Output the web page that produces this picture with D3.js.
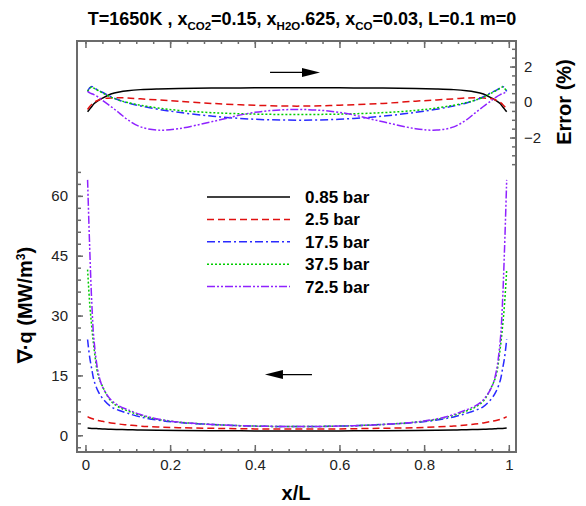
<!DOCTYPE html>
<html>
<head>
<meta charset="utf-8">
<script src="https://cdn.jsdelivr.net/npm/d3@7/dist/d3.min.js"></script>
<style>
  body { margin: 0; background: #fff; }
  svg text { font-family: "Liberation Sans", Arial, sans-serif; }
</style>
</head>
<body>
<div id="chart-area"></div>
<script>
// x/L sample positions
const xPos = [0.005, 0.01, 0.015, 0.02, 0.03, 0.04, 0.06, 0.08, 0.1, 0.13, 0.17, 0.22, 0.3, 0.4, 0.5,
  0.6, 0.7, 0.78, 0.83, 0.87, 0.9, 0.92, 0.94, 0.96, 0.97, 0.98, 0.985, 0.99, 0.995];

const pressures = ["0.85 bar", "2.5 bar", "17.5 bar", "37.5 bar", "72.5 bar"];

// divergence of heat flux, MW/m^3
const divQ085 = [1.8, 1.75, 1.72, 1.7, 1.65, 1.6, 1.5, 1.45, 1.4, 1.3, 1.25, 1.2, 1.15, 1.1, 1.08,
  1.1, 1.15, 1.2, 1.25, 1.3, 1.4, 1.45, 1.5, 1.6, 1.65, 1.7, 1.72, 1.75, 1.8];
const divQ25 = [4.7, 4.4, 4.2, 4.0, 3.7, 3.5, 3.1, 2.8, 2.6, 2.3, 2.1, 1.9, 1.75, 1.6, 1.55,
  1.6, 1.75, 1.9, 2.1, 2.3, 2.6, 2.8, 3.1, 3.5, 3.7, 4.0, 4.2, 4.4, 4.7];
const divQ175 = [24, 19.5, 16.5, 13.8, 11, 9.3, 7.2, 6.2, 5.5, 4.6, 3.8, 3.2, 2.7, 2.3, 2.2,
  2.3, 2.7, 3.2, 3.8, 4.6, 5.5, 6.2, 7.2, 9.3, 11, 13.8, 16.5, 19.5, 24];
const divQ375 = [41.5, 33, 27, 22, 15, 12.3, 8.6, 7.0, 6.1, 5.0, 4.0, 3.3, 2.7, 2.3, 2.2,
  2.3, 2.7, 3.3, 4.0, 5.0, 6.1, 7.0, 8.6, 12.3, 15, 22, 27, 33, 41.5];
const divQ725 = [64, 47, 33, 24, 15.8, 12.2, 8.9, 7.3, 6.4, 5.2, 4.1, 3.3, 2.7, 2.3, 2.2,
  2.3, 2.7, 3.3, 4.1, 5.2, 6.4, 7.3, 8.9, 12.2, 15.8, 24, 33, 47, 64];

// error, %
const err085 = [-0.55, -0.4, -0.25, -0.1, 0.08, 0.22, 0.45, 0.57, 0.64, 0.7, 0.74, 0.77, 0.79, 0.8, 0.8,
  0.8, 0.79, 0.77, 0.74, 0.7, 0.64, 0.57, 0.45, 0.22, 0.08, -0.1, -0.25, -0.4, -0.55];
const err25 = [-0.42, -0.25, -0.12, -0.02, 0.1, 0.18, 0.23, 0.24, 0.23, 0.18, 0.12, 0.05, -0.08, -0.18, -0.23,
  -0.18, -0.08, 0.05, 0.12, 0.18, 0.23, 0.24, 0.23, 0.18, 0.1, -0.02, -0.12, -0.25, -0.42];
const err175 = [0.6, 0.8, 0.88, 0.8, 0.66, 0.55, 0.3, 0.1, -0.05, -0.22, -0.4, -0.58, -0.8, -0.97, -1.02,
  -0.97, -0.8, -0.58, -0.4, -0.22, -0.05, 0.1, 0.3, 0.55, 0.66, 0.8, 0.88, 0.8, 0.6];
const err375 = [0.6, 0.78, 0.85, 0.78, 0.65, 0.52, 0.28, 0.1, -0.03, -0.18, -0.33, -0.47, -0.6, -0.68, -0.7,
  -0.68, -0.6, -0.47, -0.33, -0.18, -0.03, 0.1, 0.28, 0.52, 0.65, 0.78, 0.85, 0.78, 0.6];
const err725 = [0.6, 0.52, 0.47, 0.42, 0.28, 0.1, -0.25, -0.62, -1.0, -1.4, -1.58, -1.5, -1.1, -0.58, -0.42,
  -0.58, -1.1, -1.5, -1.58, -1.4, -1.0, -0.62, -0.25, 0.1, 0.28, 0.42, 0.47, 0.52, 0.6];

const xTicks = [0, 0.2, 0.4, 0.6, 0.8, 1];
const yLeftTicks = [0, 15, 30, 45, 60];
const yRightTicks = [-2, 0, 2];

const divQSeries = [divQ085, divQ25, divQ175, divQ375, divQ725];
const errSeries = [err085, err25, err175, err375, err725];

const colors = ["#000000", "#e01010", "#2a2aff", "#00cc00", "#8f22ff"];
const dashes = [null, "7,4", "8,3,2,3", "2,2", "8,2,2,2,2,2"];

const width = 586, height = 506;
const plotL = 77, plotR = 516, plotT = 41, plotB = 452;

const svg = d3.select("#chart-area").append("svg")
  .attr("width", width)
  .attr("height", height);

const xScale = d3.scaleLinear().domain([-0.02, 1.017]).range([plotL, plotR]);
const yLeft = d3.scaleLinear().domain([-4.19, 98.8]).range([plotB, plotT]);
const yRight = d3.scaleLinear().domain([-19.72, 3.44]).range([plotB, plotT]);

const axisColor = "#6b6b6b";

// bottom axis
const xMinor = d3.range(0, 1.0001, 0.04);
svg.append("g")
  .attr("transform", `translate(0,${plotB})`)
  .call(d3.axisTop(xScale).tickValues(xMinor).tickSize(3).tickFormat(""))
  .call(g => g.select(".domain").remove());
svg.append("g")
  .attr("transform", `translate(0,${plotB})`)
  .call(d3.axisTop(xScale).tickValues(xTicks).tickSize(7).tickFormat(""))
  .call(g => g.select(".domain").remove());
svg.append("g")
  .attr("transform", `translate(0,${plotB})`)
  .call(d3.axisBottom(xScale).tickValues(xTicks).tickSize(0).tickPadding(7).tickFormat(d3.format("~g")))
  .call(g => g.select(".domain").remove())
  .selectAll("text").style("font-size", "15px").attr("fill", "#222");

// top axis
svg.append("g")
  .attr("transform", `translate(0,${plotT})`)
  .call(d3.axisBottom(xScale).tickValues(xMinor).tickSize(3).tickFormat(""))
  .call(g => g.select(".domain").remove());
svg.append("g")
  .attr("transform", `translate(0,${plotT})`)
  .call(d3.axisBottom(xScale).tickValues(xTicks).tickSize(7).tickFormat(""))
  .call(g => g.select(".domain").remove());

// left axis (divergence)
const yLeftMinor = d3.range(-3, 66.01, 3);
svg.append("g")
  .attr("transform", `translate(${plotL},0)`)
  .call(d3.axisRight(yLeft).tickValues(yLeftMinor).tickSize(4).tickFormat(""))
  .call(g => g.select(".domain").remove());
svg.append("g")
  .attr("transform", `translate(${plotL},0)`)
  .call(d3.axisRight(yLeft).tickValues(yLeftTicks).tickSize(6).tickFormat(""))
  .call(g => g.select(".domain").remove());
svg.append("g")
  .attr("transform", `translate(${plotL},0)`)
  .call(d3.axisLeft(yLeft).tickValues(yLeftTicks).tickSize(0).tickPadding(9))
  .call(g => g.select(".domain").remove())
  .selectAll("text").style("font-size", "15px").attr("fill", "#222");

// right axis (error)
const yRightMinor = d3.range(-3.5, 3.01, 0.5);
svg.append("g")
  .attr("transform", `translate(${plotR},0)`)
  .call(d3.axisLeft(yRight).tickValues(yRightMinor).tickSize(4).tickFormat(""))
  .call(g => g.select(".domain").remove());
svg.append("g")
  .attr("transform", `translate(${plotR},0)`)
  .call(d3.axisLeft(yRight).tickValues(yRightTicks).tickSize(6).tickFormat(""))
  .call(g => g.select(".domain").remove());
svg.append("g")
  .attr("transform", `translate(${plotR},0)`)
  .call(d3.axisRight(yRight).tickValues(yRightTicks).tickSize(0).tickPadding(8))
  .call(g => g.select(".domain").remove())
  .selectAll("text").style("font-size", "15px").attr("fill", "#222");

svg.selectAll(".tick line").attr("stroke", axisColor).attr("stroke-width", 1.5);

// frame
svg.append("rect")
  .attr("x", plotL).attr("y", plotT)
  .attr("width", plotR - plotL).attr("height", plotB - plotT)
  .attr("fill", "none")
  .attr("stroke", axisColor)
  .attr("stroke-width", 2);

// curves
const curveGroup = svg.append("g");
function drawSeries(series, yScale) {
  series.forEach((vals, i) => {
    const line = d3.line()
      .x((d, j) => xScale(xPos[j]))
      .y(d => yScale(d))
      .curve(d3.curveCatmullRom.alpha(0.5));
    curveGroup.append("path")
      .datum(vals)
      .attr("d", line)
      .attr("fill", "none")
      .attr("stroke", colors[i])
      .attr("stroke-width", 1.5)
      .attr("stroke-dasharray", dashes[i]);
  });
}
drawSeries(errSeries, yRight);
drawSeries(divQSeries, yLeft);

// direction arrows
function arrow(x0, x1, y) {
  const dir = Math.sign(x1 - x0);
  svg.append("line")
    .attr("x1", x0).attr("x2", x1 - dir * 12)
    .attr("y1", y).attr("y2", y)
    .attr("stroke", "#000").attr("stroke-width", 1.3);
  svg.append("path")
    .attr("d", `M${x1},${y} L${x1 - dir * 18},${y - 4.5} L${x1 - dir * 18},${y + 4.5} Z`)
    .attr("fill", "#000");
}
arrow(xScale(0.436), xScale(0.554), yRight(1.67));
arrow(xScale(0.535), xScale(0.424), yLeft(15.2));

// legend
const legend = svg.append("g").attr("transform", "translate(207,197)");
pressures.forEach((p, i) => {
  const row = legend.append("g").attr("transform", `translate(0,${i * 22.4})`);
  row.append("line")
    .attr("x1", 0).attr("x2", 83)
    .attr("stroke", colors[i])
    .attr("stroke-width", 1.5)
    .attr("stroke-dasharray", dashes[i]);
  row.append("text")
    .attr("x", 98).attr("y", 6)
    .style("font-size", "17px")
    .style("font-weight", "bold")
    .text(p);
});

// title
const title = svg.append("text")
  .attr("x", 302)
  .attr("y", 25)
  .attr("text-anchor", "middle")
  .style("font-size", "18px")
  .style("font-weight", "bold");
title.append("tspan").text("T=1650K , x");
title.append("tspan").attr("dy", 5).style("font-size", "11.5px").text("CO2");
title.append("tspan").attr("dy", -5).text("=0.15, x");
title.append("tspan").attr("dy", 5).style("font-size", "11.5px").text("H2O");
title.append("tspan").attr("dy", -5).text(".625, x");
title.append("tspan").attr("dy", 5).style("font-size", "11.5px").text("CO");
title.append("tspan").attr("dy", -5).text("=0.03, L=0.1 m=0");

// axis titles
svg.append("text")
  .attr("x", 296)
  .attr("y", 500)
  .attr("text-anchor", "middle")
  .style("font-size", "20px")
  .style("font-weight", "bold")
  .text("x/L");

const yLab = svg.append("text")
  .attr("transform", "translate(32,305) rotate(-90)")
  .attr("text-anchor", "middle")
  .style("font-size", "20px")
  .style("font-weight", "bold");
yLab.append("tspan").text("\u2207\u00b7q (MW/m");
yLab.append("tspan").attr("dy", -7).style("font-size", "12px").text("3");
yLab.append("tspan").attr("dy", 7).text(")");

svg.append("text")
  .attr("transform", `translate(571,${yRight(0)}) rotate(-90)`)
  .attr("text-anchor", "middle")
  .style("font-size", "20px")
  .style("font-weight", "bold")
  .text("Error (%)");
</script>
</body>
</html>
